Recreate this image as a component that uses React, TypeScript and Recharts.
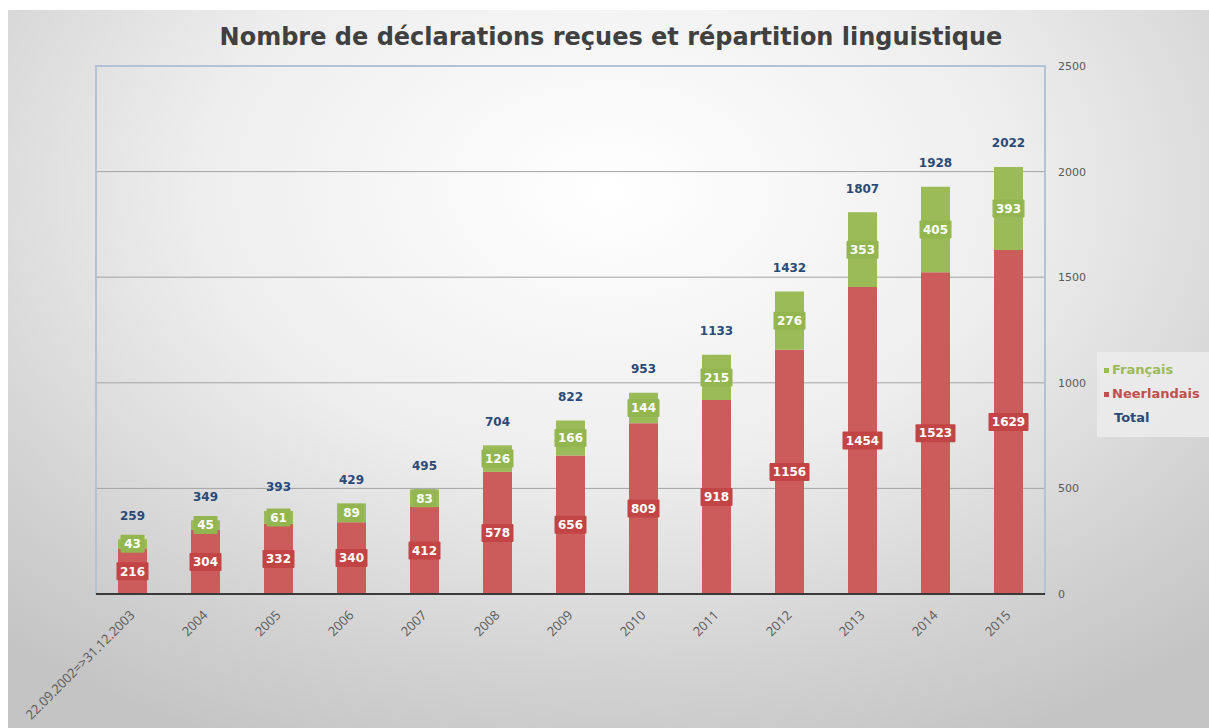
import React from 'react';
import {
  Bar,
  BarChart,
  CartesianGrid,
  LabelList,
  ReferenceArea,
  XAxis,
  YAxis,
} from 'recharts';

const periods = [
  '22.09.2002=>31.12.2003',
  '2004',
  '2005',
  '2006',
  '2007',
  '2008',
  '2009',
  '2010',
  '2011',
  '2012',
  '2013',
  '2014',
  '2015',
];
const neerlandais = [216, 304, 332, 340, 412, 578, 656, 809, 918, 1156, 1454, 1523, 1629];
const francais = [43, 45, 61, 89, 83, 126, 166, 144, 215, 276, 353, 405, 393];
const totals = [259, 349, 393, 429, 495, 704, 822, 953, 1133, 1432, 1807, 1928, 2022];
const yTicks = [0, 500, 1000, 1500, 2000, 2500];

const data = periods.map((p, i) => ({
  period: p,
  nl: neerlandais[i],
  fr: francais[i],
  total: totals[i],
}));

const RED = '#cc5c5c';
const RED_BOX = '#c24444';
const GREEN = '#9bbb59';
const GREEN_BOX = '#93b651';
const NAVY = '#2a4a78';

const boxLabel = (bg: string) => (props: any) => {
  const { x, y, width, height, value } = props;
  const cx = x + width / 2;
  const cy = y + height / 2;
  const w = String(value).length * 8 + 8;
  return (
    <g>
      <rect x={cx - w / 2} y={cy - 9} width={w} height={18} fill={bg} rx={1} />
      <text
        x={cx}
        y={cy}
        dy="0.36em"
        textAnchor="middle"
        fill="#fff"
        fontFamily="DejaVu Sans"
        fontWeight="bold"
        fontSize={12}
      >
        {value}
      </text>
    </g>
  );
};

const totalLabel = (props: any) => {
  const { x, y, width, value } = props;
  return (
    <text
      x={x + width / 2}
      y={y - 24}
      dy="0.36em"
      textAnchor="middle"
      fill={NAVY}
      fontFamily="DejaVu Sans"
      fontWeight="bold"
      fontSize={12}
    >
      {value}
    </text>
  );
};

const PeriodTick = (props: any) => {
  const { x, y, payload } = props;
  return (
    <text
      x={x + 3}
      y={y + 14}
      transform={`rotate(-45, ${x + 3}, ${y + 14})`}
      textAnchor="end"
      fill="#595959"
      fontFamily="Open Sans"
      fontSize={13}
    >
      {payload.value}
    </text>
  );
};

const LegendBox = () => (
  <div
    style={{
      position: 'absolute',
      left: 1097,
      top: 352,
      background: 'rgba(236,236,236,0.85)',
      width: 112,
      height: 85,
      boxSizing: 'border-box',
      padding: '6px 0 0 7px',
      fontFamily: 'DejaVu Sans',
      fontWeight: 'bold',
      fontSize: 13,
      lineHeight: '24px',
    }}
  >
    <div style={{ color: GREEN }}>
      <span style={{ display: 'inline-block', width: 5, height: 5, background: GREEN, marginRight: 3, verticalAlign: 'middle' }} />
      Français
    </div>
    <div style={{ color: '#c0504d' }}>
      <span style={{ display: 'inline-block', width: 5, height: 5, background: '#c0504d', marginRight: 3, verticalAlign: 'middle' }} />
      Neerlandais
    </div>
    <div style={{ color: NAVY, paddingLeft: 10 }}>Total</div>
  </div>
);

export default function App() {
  return (
    <div style={{ position: 'fixed', left: 0, top: 0, width: 1209, height: 728, background: '#fff' }}>
      <div
        style={{
          position: 'absolute',
          left: 8,
          top: 10,
          width: 1201,
          height: 718,
          background:
            'radial-gradient(ellipse 75% 85% at 50% 25%, #ffffff 0%, #eeeeee 45%, #d2d2d2 80%, #c4c4c4 100%)',
        }}
      />
      <div
        style={{
          position: 'absolute',
          left: 0,
          top: 23,
          width: 1222,
          textAlign: 'center',
          fontFamily: 'DejaVu Sans',
          fontWeight: 'bold',
          fontSize: 24,
          color: '#404040',
        }}
      >
        Nombre de déclarations reçues et répartition linguistique
      </div>
      <div style={{ position: 'absolute', left: 0, top: 0 }}>
        <BarChart
          width={1209}
          height={728}
          data={data}
          margin={{ top: 66, right: 114, left: 96, bottom: 4 }}
        >
          <CartesianGrid horizontal vertical={false} stroke="#a3a3a3" />
          <ReferenceArea y1={0} y2={2500} fill="none" stroke="#b3c2d6" strokeWidth={2} />
          <XAxis
            dataKey="period"
            interval={0}
            height={130}
            tick={<PeriodTick />}
            tickLine={false}
            axisLine={{ stroke: '#3a3a3a', strokeWidth: 2 }}
          />
          <YAxis
            orientation="right"
            domain={[0, 2500]}
            ticks={yTicks}
            width={50}
            tickSize={0}
            tickMargin={13}
            axisLine={false}
            tickLine={false}
            tick={{ fill: '#595959', fontFamily: 'DejaVu Sans', fontSize: 11, textAnchor: 'start' }}
          />
          <Bar dataKey="nl" stackId="a" fill={RED} barSize={29} isAnimationActive={false}>
            <LabelList dataKey="nl" content={boxLabel(RED_BOX)} />
          </Bar>
          <Bar dataKey="fr" stackId="a" fill={GREEN} barSize={29} isAnimationActive={false}>
            <LabelList dataKey="fr" content={boxLabel(GREEN_BOX)} />
            <LabelList dataKey="total" content={totalLabel} />
          </Bar>
        </BarChart>
      </div>
      <LegendBox />
    </div>
  );
}
